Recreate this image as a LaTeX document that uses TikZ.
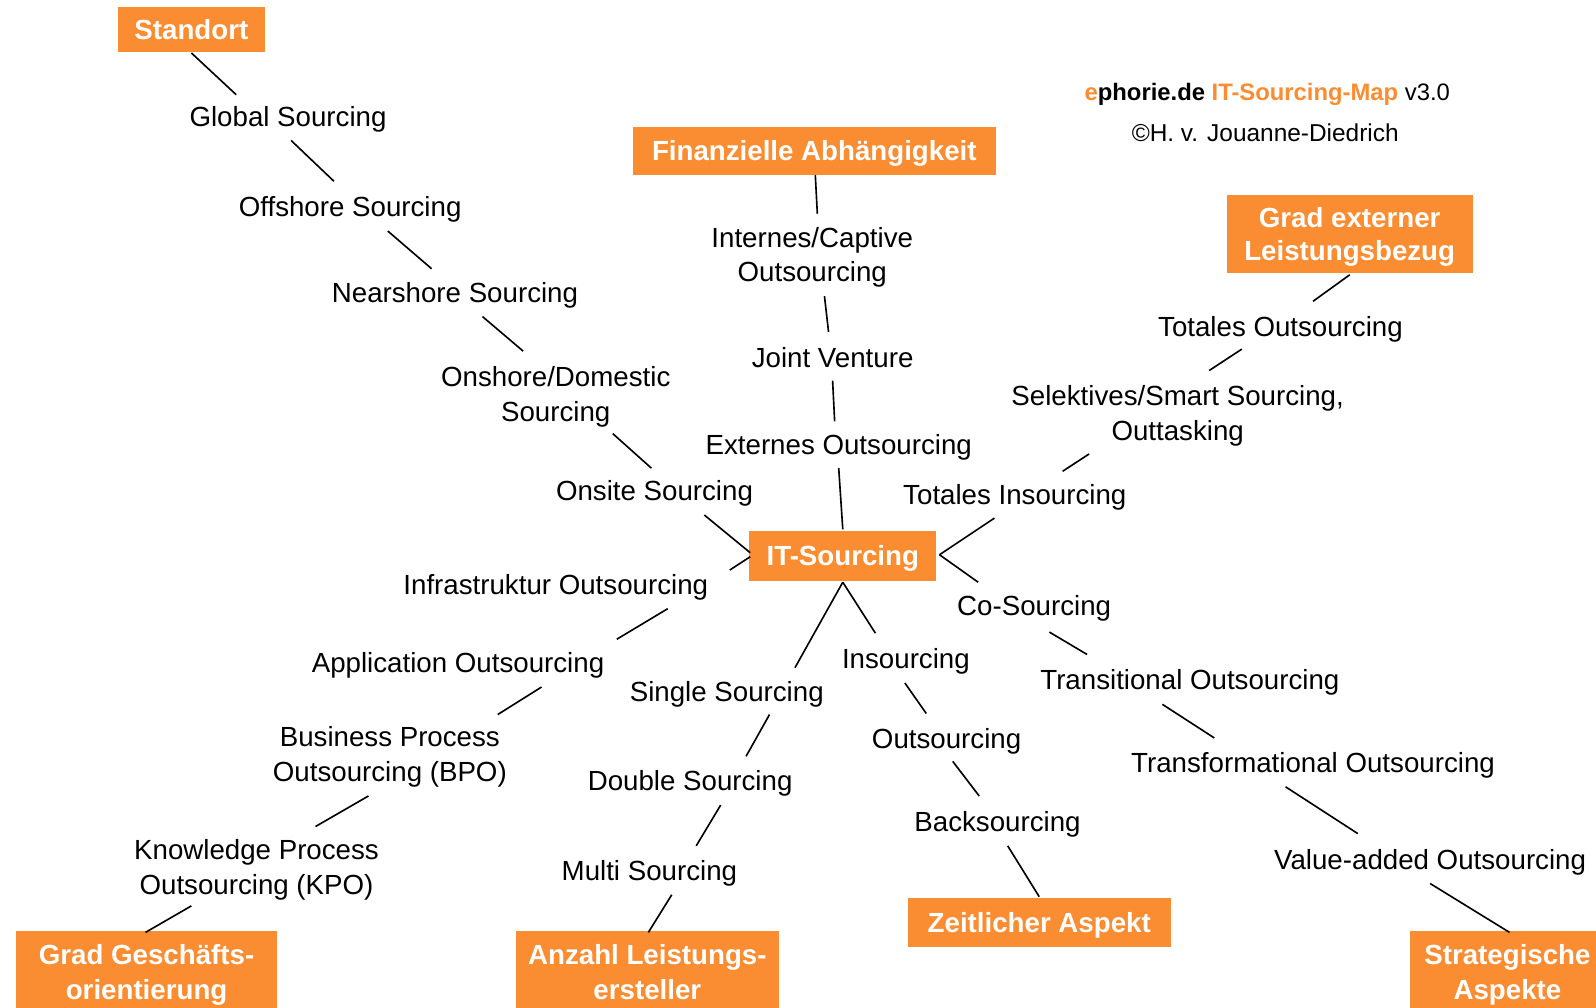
\documentclass[tikz,border=0pt]{standalone}
\usepackage{fontspec}
\setmainfont{Liberation Sans}
\usepackage{tikz}
\usetikzlibrary{calc}
\usepackage{xcolor}
\definecolor{map_orange}{HTML}{FA8C32}
\tikzset{
	term/.style={inner sep=0pt, align=center, text height=9.75pt, text depth=0pt, font=\fontsize{13.6}{17}\selectfont},
	term2/.style={term, text height=26.75pt},
	area/.style={fill=map_orange, text=white, inner sep=0pt, align=center, text height=9.75pt, text depth=0pt, font=\fontsize{13.6}{16}\selectfont\bfseries},
	area2/.style={area, text height=25.75pt},
	area3/.style={area, text height=26.75pt, font=\fontsize{13.6}{17}\selectfont\bfseries},
	link/.style={line width=0.8pt},
}

\begin{document}
\begin{tikzpicture}[x=0.5pt, y=-0.5pt]
	\useasboundingbox (0, 0) rectangle (1568, 990);
	\clip (0, 0) rectangle (1568, 990);
	\node (title) at (1245, 93) {\fontsize{11.7}{14}\selectfont\bfseries\textcolor{map_orange}{e}phorie.de \textcolor{map_orange}{IT-Sourcing-Map} \mdseries v3.0};
	\node (copy) at (1243, 130) {\fontsize{12}{14}\selectfont ©H. v. Jouanne-Diedrich};
	\node[area, minimum width=92pt, minimum height=24.5pt] (itsrc) at (828, 546) {IT-Sourcing};
	\node[area, minimum width=72pt, minimum height=22pt] (std) at (188, 29) {Standort};
	\node[area, minimum width=178.5pt, minimum height=23.5pt] (fin) at (800, 148) {Finanzielle Abhängigkeit};
	\node[area2, minimum width=121pt, minimum height=38pt] (gext) at (1326, 230) {Grad externer\\Leistungsbezug};
	\node[area, minimum width=129pt, minimum height=24pt] (zeit) at (1021, 906) {Zeitlicher Aspekt};
	\node[area3, minimum width=128.5pt, minimum height=40pt] (gg) at (144, 955) {Grad Geschäfts-\\orientierung};
	\node[area3, minimum width=129.5pt, minimum height=40pt] (anz) at (636, 955) {Anzahl Leistungs-\\ersteller};
	\node[area3, minimum width=96pt, minimum height=40pt] (strat) at (1481, 955) {Strategische\\Aspekte};
	\node[term] (glob) at (283, 115) {Global Sourcing};
	\node[term] (offs) at (344, 203) {Offshore Sourcing};
	\node[term] (near) at (447, 287) {Nearshore Sourcing};
	\node[term2] (onsh) at (546, 387) {Onshore/Domestic\\Sourcing};
	\node[term] (onsi) at (643, 482) {Onsite Sourcing};
	\node[term2] (intern) at (798, 250) {Internes/Captive\\Outsourcing};
	\node[term] (joint) at (818, 351) {Joint Venture};
	\node[term] (extern) at (824, 437) {Externes Outsourcing};
	\node[term] (totout) at (1258, 321) {Totales Outsourcing};
	\node[term2] (selek) at (1157, 406) {Selektives/Smart Sourcing,\\Outtasking};
	\node[term] (totins) at (997, 486) {Totales Insourcing};
	\node[term] (co) at (1016, 595) {Co-Sourcing};
	\node[term] (trans) at (1169, 668) {Transitional Outsourcing};
	\node[term] (transf) at (1290, 749) {Transformational Outsourcing};
	\node[term] (value) at (1405, 844) {Value-added Outsourcing};
	\node[term] (ins) at (890, 647) {Insourcing};
	\node[term] (out) at (930, 726) {Outsourcing};
	\node[term] (back) at (980, 807) {Backsourcing};
	\node[term] (single) at (714, 679) {Single Sourcing};
	\node[term] (double) at (678, 767) {Double Sourcing};
	\node[term] (multi) at (638, 855) {Multi Sourcing};
	\node[term] (infra) at (546, 574) {Infrastruktur Outsourcing};
	\node[term] (appl) at (450, 651) {Application Outsourcing};
	\node[term2] (bpo) at (383, 741) {Business Process\\Outsourcing (BPO)};
	\node[term2] (kpo) at (252, 852) {Knowledge Process\\Outsourcing (KPO)};
	\draw[link] ($(std) + (0, 23)$) -- ($(glob) + (-51, -22)$);
	\draw[link] ($(glob) + (3, 23)$) -- ($(offs) + (-16, -25)$);
	\draw[link] ($(offs) + (37, 24)$) -- ($(near) + (-23, -23)$);
	\draw[link] ($(near) + (27, 24)$) -- ($(onsh) + (-32, -42)$);
	\draw[link] ($(onsh) + (56, 39)$) -- ($(onsi) + (-3, -22)$);
	\draw[link] ($(onsi) + (49, 24)$) -- ($(itsrc) + (-91, -3)$);
	\draw[link] ($(fin) + (1, 24)$) -- ($(intern) + (5, -40)$);
	\draw[link] ($(intern) + (12, 41)$) -- ($(joint) + (-4, -25)$);
	\draw[link] ($(joint) + (0, 23)$) -- ($(extern) + (-4, -23)$);
	\draw[link] ($(extern) + (0, 23)$) -- ($(itsrc) + (0, -26)$);
	\draw[link] ($(gext) + (0, 40)$) -- ($(totout) + (32, -25)$);
	\draw[link] ($(totout) + (-38, 22)$) -- ($(selek) + (31, -42)$);
	\draw[link] ($(selek) + (-87, 40)$) -- ($(totins) + (47, -23)$);
	\draw[link] ($(totins) + (-20, 23)$) -- ($(itsrc) + (95, -1)$);
	\draw[link] ($(itsrc) + (95, -1)$) -- ($(co) + (-55, -23)$);
	\draw[link] ($(co) + (15, 26)$) -- ($(trans) + (-101, -25)$);
	\draw[link] ($(trans) + (-27, 24)$) -- ($(transf) + (-97, -24)$);
	\draw[link] ($(transf) + (-27, 24)$) -- ($(value) + (-71, -25)$);
	\draw[link] ($(value) + (0, 24)$) -- ($(strat) + (2, -39)$);
	\draw[link] ($(itsrc) + (0, 26)$) -- ($(ins) + (-30, -25)$);
	\draw[link] ($(ins) + (-1, 24)$) -- ($(out) + (-20, -25)$);
	\draw[link] ($(out) + (6, 22)$) -- ($(back) + (-18, -25)$);
	\draw[link] ($(back) + (10, 24)$) -- ($(zeit) + (0, -25)$);
	\draw[link] ($(itsrc) + (0, 26)$) -- ($(single) + (67, -23)$);
	\draw[link] ($(single) + (42, 23)$) -- ($(double) + (55, -24)$);
	\draw[link] ($(double) + (30, 24)$) -- ($(multi) + (46, -24)$);
	\draw[link] ($(multi) + (22, 24)$) -- ($(anz) + (1, -39)$);
	\draw[link] ($(itsrc) + (-91, 1)$) -- ($(infra) + (171, -14)$);
	\draw[link] ($(infra) + (110, 24)$) -- ($(appl) + (156, -23)$);
	\draw[link] ($(appl) + (82, 24)$) -- ($(bpo) + (106, -39)$);
	\draw[link] ($(bpo) + (-21, 41)$) -- ($(kpo) + (58, -40)$);
	\draw[link] ($(kpo) + (-64, 38)$) -- ($(gg) + (-1, -39)$);
\end{tikzpicture}
\end{document}
